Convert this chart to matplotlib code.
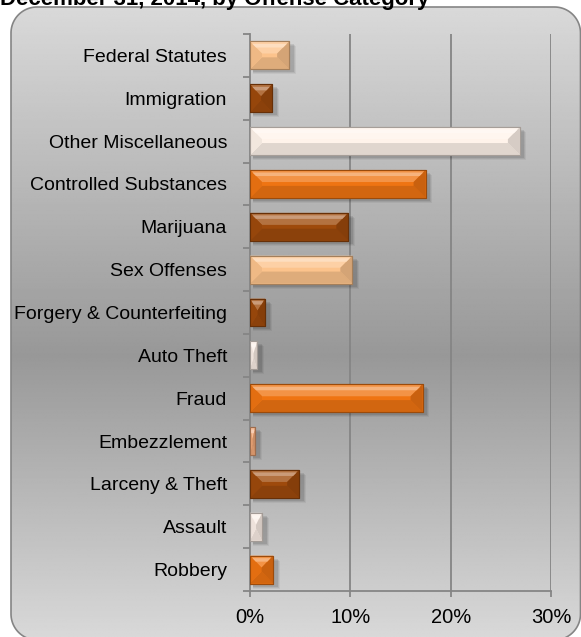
import numpy as np
import matplotlib
matplotlib.use("Agg")
import matplotlib.pyplot as plt
from matplotlib.patches import Polygon, Rectangle
from matplotlib.colors import to_rgb

plt.rcParams['font.family'] = ['Liberation Sans', 'DejaVu Sans']

# Offense categories, listed top to bottom
categories = [
    "Federal Statutes", "Immigration", "Other Miscellaneous",
    "Controlled Substances", "Marijuana", "Sex Offenses",
    "Forgery & Counterfeiting", "Auto Theft", "Fraud", "Embezzlement",
    "Larceny & Theft", "Assault", "Robbery",
]
# Share of offenders (%)
shares = [3.9, 2.2, 26.9, 17.5, 9.8, 10.2, 1.5, 0.7, 17.2, 0.5, 4.9, 1.2, 2.3]
# Fill of each bar
bar_colors = [
    "#fcc38c", "#9e4a0c", "#fff3ea", "#ef7412", "#9e4a0c", "#fcc38c",
    "#9e4a0c", "#fbeee6", "#ef7412", "#f1a878", "#9e4a0c", "#fbeee6",
    "#ef7412",
]
x_ticks = [0, 10, 20, 30]
x_tick_labels = ["0%", "10%", "20%", "30%"]
title = "December 31, 2014, by Offense Category"

W, H = 581, 637
fig = plt.figure(figsize=(W / 100, H / 100), dpi=100)
fig.patch.set_facecolor("white")

# Background layer in pixel units, y measured from the top
bg = fig.add_axes([0, 0, 1, 1])
bg.axis("off")


def rounded_rect(x0, y0, x1, y1, r, n=24):
    """Outline of a rounded rectangle (y grows downward)."""
    pts = []
    corners = [(x1 - r, y0 + r, -90, 0), (x1 - r, y1 - r, 0, 90),
               (x0 + r, y1 - r, 90, 180), (x0 + r, y0 + r, 180, 270)]
    for cx, cy, a0, a1 in corners:
        t = np.radians(np.linspace(a0, a1, n))
        pts.extend(zip(cx + r * np.cos(t), cy + r * np.sin(t)))
    return np.array(pts)


rows = np.linspace(0, 1, 400)
mid = 0.55
shade = np.where(rows < mid, 217 - (217 - 152) * rows / mid,
                 152 + (217 - 152) * (rows - mid) / (1 - mid)) / 255.0
grad = np.repeat(shade[:, None], 2, axis=1)
px0, py0, px1, py1, rad = 11, 7, 580.5, 640, 26
im = bg.imshow(grad, cmap="gray", vmin=0, vmax=1,
               extent=[px0, px1, py1, py0],
               aspect="auto", zorder=1, interpolation="bilinear")
bg.set_xlim(0, W)
bg.set_ylim(H, 0)
outline = rounded_rect(px0, py0, px1, py1, rad)
clip = Polygon(outline, closed=True, facecolor="none", edgecolor="none")
bg.add_patch(clip)
im.set_clip_path(clip)
bg.add_patch(Polygon(outline, closed=True, facecolor="none",
                     edgecolor="#858585", linewidth=1.2, zorder=3))

fig.text(-0.5 / W, 1 - 4.5 / H, title, fontsize=16, fontweight="bold",
         ha="left", va="baseline", color="black")

# Bar chart axes
ax = fig.add_axes([250 / W, (H - 591) / H, 301 / W, 557 / H])
ax.patch.set_alpha(0)
n = len(categories)
ypos = np.arange(n)[::-1]
ax.set_xlim(0, 30)
ax.set_ylim(-0.5, n - 0.5)

grid_c = "#858585"
for xv in x_ticks[1:]:
    ax.axvline(xv, color=grid_c, linewidth=1.3, zorder=0)
for s in ["top", "right"]:
    ax.spines[s].set_visible(False)
for s in ["left", "bottom"]:
    ax.spines[s].set_color(grid_c)
    ax.spines[s].set_linewidth(1.3)

ax.set_xticks(x_ticks)
ax.set_xticklabels(x_tick_labels)
ax.set_yticks(ypos)
ax.set_yticklabels(categories)
ax.set_yticks(np.arange(-0.5, n, 1.0), minor=True)
ax.tick_params(axis="y", which="major", length=0, pad=16.5, labelsize=14)
ax.tick_params(axis="y", which="minor", length=5, width=1.3, color=grid_c, direction="out")
ax.tick_params(axis="x", length=4.5, width=1.3, color=grid_c, pad=8, labelsize=14.5)

bar_h = 0.65
fig.canvas.draw()
p0 = ax.transData.transform((0, 0))
p1 = ax.transData.transform((1, 1))
px_x = p1[0] - p0[0]
px_y = p1[1] - p0[1]


def darker(c, f):
    r, g, b = to_rgb(c)
    return (r * f, g * f, b * f)


def lighter(c, f):
    r, g, b = to_rgb(c)
    return (r + (1 - r) * f, g + (1 - g) * f, b + (1 - b) * f)


# Soft drop shadows
for v, y in zip(shares, ypos):
    for k, a in [(5, 0.05), (4, 0.07), (3, 0.09)]:
        ax.add_patch(Rectangle((0 + 2.5 / px_x, y - bar_h / 2 - k / px_y),
                               v + (k - 1) / px_x, bar_h,
                               facecolor="black", alpha=a, edgecolor="none", zorder=2))

bars = ax.barh(ypos, shares, height=bar_h, color=bar_colors, zorder=3,
               edgecolor=[darker(c, 0.65) for c in bar_colors], linewidth=0.8)

# Bevelled faces on each bar
bev = 12.0
for rect, c in zip(bars, bar_colors):
    x0, yb = rect.get_x(), rect.get_y()
    w, h = rect.get_width(), rect.get_height()
    x1, yt = x0 + w, yb + h
    bx = min(bev / px_x, w / 2)
    by = min(bev / px_y, h / 2 - 0.5 / px_y)
    top = [(x0, yt), (x1, yt), (x1 - bx, yt - by), (x0 + bx, yt - by)]
    bot = [(x0, yb), (x1, yb), (x1 - bx, yb + by), (x0 + bx, yb + by)]
    left = [(x0, yb), (x0, yt), (x0 + bx, yt - by), (x0 + bx, yb + by)]
    right = [(x1, yb), (x1, yt), (x1 - bx, yt - by), (x1 - bx, yb + by)]
    ax.add_patch(Polygon(top, closed=True, facecolor=lighter(c, 0.22), edgecolor="none", zorder=4))
    ax.add_patch(Polygon(bot, closed=True, facecolor=darker(c, 0.88), edgecolor="none", zorder=4))
    ax.add_patch(Polygon(left, closed=True, facecolor=darker(c, 0.95), edgecolor="none", zorder=4))
    ax.add_patch(Polygon(right, closed=True, facecolor=darker(c, 0.84), edgecolor="none", zorder=4))
    # highlight streak just below the top edge
    hl0 = 2.5 / px_y
    hl1 = 6.0 / px_y
    fx = lambda d: bx * d / by if by > 0 else 0
    streak = [(x0 + fx(hl0), yt - hl0), (x1 - fx(hl0), yt - hl0),
              (x1 - fx(hl1), yt - hl1), (x0 + fx(hl1), yt - hl1)]
    ax.add_patch(Polygon(streak, closed=True, facecolor=lighter(c, 0.45),
                         edgecolor="none", zorder=4.5))
    # thin outline on top of the faces
    ax.add_patch(Rectangle((x0, yb), w, h, facecolor="none",
                           edgecolor=darker(c, 0.65), linewidth=0.8, zorder=5))

fig.savefig("out.png", dpi=100)
